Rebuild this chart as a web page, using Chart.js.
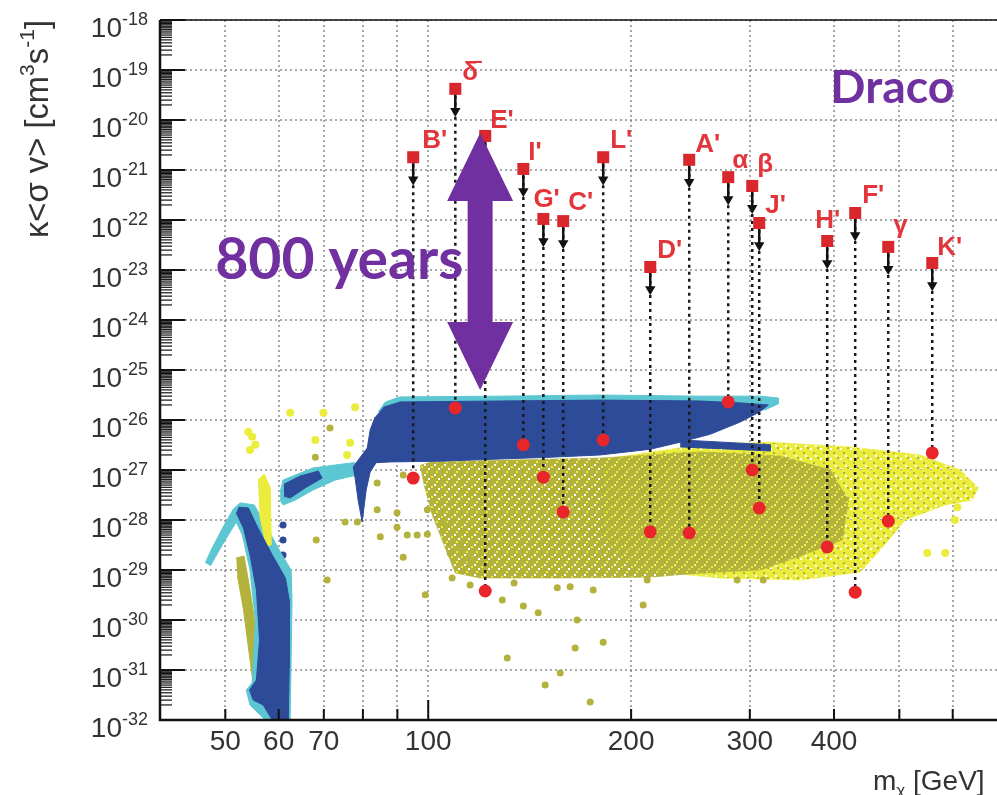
<!DOCTYPE html>
<html>
<head>
<meta charset="utf-8">
<script src="https://cdn.jsdelivr.net/npm/chart.js@4.4.1/dist/chart.umd.min.js"></script>
<style>
  html, body { margin: 0; padding: 0; background: #fff; }
  canvas { display: block; }
</style>
</head>
<body>
<canvas id="chart" width="997" height="795"></canvas>
<script>
// benchmark models: name, mass [GeV], limit on k<sigma v> and predicted k<sigma v> [cm^3 s^-1]
const models = ["B'", "\u03B4\u0304", "E'", "I'", "G'", "C'", "L'", "D'", "A'", "\u03B1", "\u03B2", "J'", "H'", "F'", "\u03B3", "K'"];
const masses = [95, 109.7, 121.5, 138.4, 148.2, 158.6, 181.8, 213.5, 243.9, 278.7, 302.5, 309.8, 390.8, 430, 481.4, 559.5];
const limits = [1.8e-21, 4.2e-20, 4.8e-21, 1.05e-21, 1.05e-22, 9.5e-23, 1.8e-21, 1.15e-23, 1.6e-21, 7.2e-22, 4.8e-22, 8.7e-23, 3.8e-23, 1.38e-22, 2.9e-23, 1.38e-23];
const predicted = [6.9e-28, 1.74e-26, 3.8e-30, 3.2e-27, 7.2e-28, 1.45e-28, 4e-27, 5.8e-29, 5.5e-29, 2.3e-26, 1e-27, 1.74e-28, 2.9e-29, 3.6e-30, 9.5e-29, 2.2e-27];

// axis ticks
const xTicks = [50, 60, 70, 80, 90, 100, 200, 300, 400, 500, 600];
const xTickLabels = ['50', '60', '70', '', '', '100', '200', '300', '400', '', ''];
const yTickPowers = [-18, -19, -20, -21, -22, -23, -24, -25, -26, -27, -28, -29, -30, -31, -32];

// scan regions, outlines [mass, k<sigma v>]
const bandDark = [[85.8,1.8e-26],[90.9,2.3e-26],[127.9,2.4e-26],[180,2.5e-26],[253.3,2.4e-26],[290.3,2.2e-26],[319.6,2.0e-26],[308.9,1.4e-26],[290.3,9.1e-27],[262.1,5.2e-27],[236.5,3.6e-27],[213.5,2.6e-27],[180,2.0e-27],[151.7,1.8e-27],[127.9,1.66e-27],[104.2,1.5e-27],[87.8,1.45e-27],[83.7,1.4e-27],[82.0,9.1e-28],[80.9,4.0e-28],[79.8,9.1e-29],[78.7,2.5e-28],[77.9,6.9e-28],[77.4,1.15e-27],[79.3,1.8e-27],[81.2,2.75e-27],[82.0,6.3e-27],[83.4,1.15e-26]];
const bandTail = [[236.5,4.0e-27],[321.7,3.2e-27],[321.7,2.4e-27],[236.5,2.9e-27]];
const bandLight = [[84.3,1.45e-26],[86.4,2.3e-26],[90.9,2.9e-26],[127.9,3.0e-26],[180,3.16e-26],[253.3,3.0e-26],[311.0,3.0e-26],[330.6,2.75e-26],[330.6,2.1e-26],[316.2,1.6e-26],[85.8,1.45e-26]];
const stripLight = [[60.3,3.6e-28],[60.9,6.3e-28],[64.6,8.7e-28],[67.5,1.1e-27],[72.8,1.26e-27],[77.4,1.4e-27],[79.8,1.3e-27],[80.1,8.3e-28],[77.4,7.6e-28],[72.8,6.3e-28],[67.5,4.0e-28],[63.5,2.5e-28],[60.9,2.0e-28],[60.3,2.5e-28]];
const stripDark = [[61.1,5.2e-28],[64.6,7.6e-28],[68.7,9.5e-28],[69.6,6.9e-28],[65.7,4.4e-28],[62.4,2.75e-28],[61.1,3.0e-28]];
const lowLight = [[46.7,1.4e-29],[47.8,2.75e-29],[49.8,7.9e-29],[51.4,1.66e-28],[52.6,2.2e-28],[55.2,2.0e-28],[57.9,6.3e-29],[60.7,2.0e-29],[62.6,1e-29],[62.8,2.5e-30],[62.4,1e-32],[57.3,1e-32],[54.4,2.0e-32],[53.7,4.0e-32],[54.8,5.5e-32],[55.4,1e-30],[54.4,1e-29],[53.0,5.0e-29],[51.9,9.1e-29],[49.5,3.2e-29],[47.5,1.2e-29]];
const lowDark = [[52.3,1.8e-28],[54.1,1.74e-28],[55.9,6.9e-29],[58.7,2.0e-29],[61.4,6.9e-30],[62.2,2.5e-30],[62.2,1.15e-31],[62.0,1e-32],[58.7,1e-32],[56.9,2.0e-32],[55.0,2.5e-32],[54.3,4.0e-32],[55.6,6.3e-32],[56.2,4.0e-31],[55.6,4.0e-30],[54.4,2.0e-29],[53.2,6.9e-29],[51.9,1.4e-28]];
const lowOlive = [[51.9,1.74e-29],[53.3,1.9e-29],[54.4,4.0e-30],[55.8,4.0e-31],[56.9,6.3e-32],[56.7,3.6e-32],[55.2,3.6e-32],[54.4,1.6e-31],[53.2,1.6e-30],[52.1,7.9e-30]];
const lowYellow = [[55.9,6.3e-28],[57.1,8.3e-28],[58.3,4.4e-28],[58.5,3.2e-29],[57.5,3.0e-29],[56.2,1.26e-28]];
const cloudOlive = [[100.7,1.45e-27],[136.9,1.6e-27],[180,1.74e-27],[253.3,2.3e-27],[332.9,1.9e-27],[394.9,1e-27],[420.1,2.5e-28],[411.5,4.0e-29],[356.4,1.9e-29],[311.0,1e-29],[253.3,8.7e-30],[213.5,7.2e-30],[157.0,6.9e-30],[119.4,6.9e-30],[109.7,8.7e-30],[106.0,2.75e-29],[101.4,1.26e-28],[98.6,5.0e-28],[97.3,1.26e-27]];
const cloudYellow = [[180,1.6e-27],[253.3,3.2e-27],[321.7,3.6e-27],[422.7,2.9e-27],[537.0,2.0e-27],[615.7,1e-27],[654.6,4.4e-28],[641.4,2.5e-28],[584.8,2.0e-28],[510.2,1e-28],[468.5,2.5e-29],[437.5,9.1e-30],[356.4,6.3e-30],[271.2,6.9e-30],[206.3,1e-29],[180,4.0e-29]];

// isolated scan points
const olivePoints = [[70.8,6.3e-30],[99.0,3.2e-30],[131.0,1.74e-31],[149.1,5.0e-32],[173.9,2.3e-32],[165.2,2.75e-31],[166.3,1e-30],[157.0,8.7e-32],[181.8,3.6e-31],[208.4,2.0e-30],[211.3,6.3e-30],[287.3,6.3e-30],[314.1,6.3e-30],[128.8,2.5e-30],[138.4,1.9e-30],[145.6,1.4e-30],[115.4,5.0e-30],[108.5,6.9e-30],[134.1,5.5e-30],[155.4,4.4e-30],[162.4,4.6e-30],[175.7,4.0e-30],
  [84.0,5.5e-28],[84.0,1.6e-28],[84.9,4.6e-29],[91.8,1.8e-29],[96.3,5.0e-29],[75.3,9.1e-29],[78.5,9.1e-29],[68.2,4.0e-29],[89.9,1.4e-28],[93.1,5.0e-29],[89.9,7.2e-29],[91.8,7.9e-28],[99.7,1.6e-28],[99.7,5.2e-29],[105.3,8.7e-29],[107.8,2.2e-29],[111.5,2.9e-29],[115.4,1.6e-29],[68.0,1.8e-27],[71.5,6.9e-27]];
const yellowPoints = [[62.4,1.4e-26],[69.9,1.4e-26],[68.0,4.0e-27],[76.6,3.5e-27],[75.8,2.0e-27],[77.9,1.8e-26],[93.4,2.0e-26],[54.8,4.6e-27],[54.1,5.75e-27],[55.4,3.2e-27],[54.4,2.5e-27],[609.4,1.8e-28],[604.6,1e-28],[550.1,2.2e-29],[584.8,2.2e-29]];
const bluePoints = [[60.9,7.9e-29],[60.9,4e-29],[60.9,2e-29],[60.9,1e-29]];

// annotations
const arrowMass = 119.4, arrowTop = 5.5e-21, arrowBottom = 4e-26;
const yearsText = '800 years', yearsAt = [48.3, 6.6e-24];
const targetText = 'Draco', targetAt = [395, 2.2e-20];

// styles
const darkBlue = '#2d4b99', lightBlue = '#5cc6d2', olive = '#b3b23c', yellow = '#ecec3c', purple = '#7030a0';
const gridColor = 'rgba(110,110,110,0.6)';
const labelOffsets = [[9,-9],[7,-9],[5,-8],[5,-9],[-10,-12],[5,-11],[7,-9],[7,-9],[6,-8],[4,-9],[5,-14],[6,-10],[-12,-13],[7,-10],[5,-14],[5,-8]];
const arrowFactor = 0.36;
const axisFont = '"Liberation Sans", Arial, Helvetica, sans-serif';

function speckle(base, dot, dots, holes) {
  const c = document.createElement('canvas');
  c.width = 10; c.height = 10;
  const g = c.getContext('2d');
  g.fillStyle = base; g.fillRect(0, 0, 10, 10);
  g.fillStyle = dot;
  dots.forEach(([a, b]) => g.fillRect(a, b, 2, 2));
  holes.forEach(([a, b]) => g.clearRect(a, b, 2, 2));
  return g.createPattern(c, 'repeat');
}
const olivePattern = speckle(olive, yellow, [[1,6],[6,1]], [[4,4],[8,8]]);
const yellowPattern = speckle(yellow, olive, [[3,2],[7,7]], [[0,8],[5,5]]);

const pts = arr => arr.map(([x, y]) => ({x, y}));

function region(points, fillStyle, edge, order) {
  return { data: pts(points), showLine: true, fill: 'shape', backgroundColor: fillStyle,
    borderColor: edge, borderWidth: 1, pointRadius: 0, tension: 0, order };
}
function dots(points, color, r, order, style) {
  return { data: pts(points), showLine: false, pointRadius: r, pointBackgroundColor: color,
    pointBorderWidth: 0, pointStyle: style || 'circle', order };
}

const dropLines = [], shafts = [], heads = [];
masses.forEach((m, i) => {
  dropLines.push({x: m, y: limits[i]}, {x: m, y: predicted[i]}, {x: m, y: null});
  shafts.push({x: m, y: limits[i]}, {x: m, y: limits[i] * arrowFactor}, {x: m, y: null});
  heads.push({x: m, y: limits[i] * arrowFactor});
});

const decorations = {
  id: 'decorations',
  afterDatasetsDraw(chart) {
    const {ctx, scales: {x, y}} = chart;
    ctx.save();
    // model labels
    ctx.fillStyle = '#e2363c';
    ctx.font = 'bold 26px ' + axisFont;
    ctx.textAlign = 'left';
    ctx.textBaseline = 'alphabetic';
    models.forEach((name, i) => {
      const px = x.getPixelForValue(masses[i]);
      const py = y.getPixelForValue(limits[i]);
      ctx.fillText(name, px + labelOffsets[i][0], py + labelOffsets[i][1]);
    });

    // double arrow
    const ax = x.getPixelForValue(arrowMass);
    const t = y.getPixelForValue(arrowTop);
    const b = y.getPixelForValue(arrowBottom);
    const hw = 33, sw = 12.5, hl = 68;
    ctx.fillStyle = purple;
    ctx.beginPath();
    ctx.moveTo(ax, t);
    ctx.lineTo(ax + hw, t + hl); ctx.lineTo(ax + sw, t + hl);
    ctx.lineTo(ax + sw, b - hl); ctx.lineTo(ax + hw, b - hl);
    ctx.lineTo(ax, b);
    ctx.lineTo(ax - hw, b - hl); ctx.lineTo(ax - sw, b - hl);
    ctx.lineTo(ax - sw, t + hl); ctx.lineTo(ax - hw, t + hl);
    ctx.closePath();
    ctx.fill();

    // purple texts, sized to the widths in the picture
    const fam = 'Lato, "Open Sans", sans-serif';
    const fit = (txt, w) => { ctx.font = 'bold 100px ' + fam; return 100 * w / ctx.measureText(txt).width; };
    ctx.font = 'bold ' + fit(yearsText, 248).toFixed(1) + 'px ' + fam;
    ctx.fillText(yearsText, x.getPixelForValue(yearsAt[0]), y.getPixelForValue(yearsAt[1]));
    ctx.font = 'bold ' + fit(targetText, 124).toFixed(1) + 'px ' + fam;
    ctx.fillText(targetText, x.getPixelForValue(targetAt[0]), y.getPixelForValue(targetAt[1]));
    ctx.restore();
  },
  afterDraw(chart) {
    const {ctx, chartArea: a, scales: {x, y}} = chart;
    ctx.save();
    ctx.strokeStyle = '#111';
    // frame
    ctx.lineWidth = 2.5;
    ctx.beginPath();
    ctx.moveTo(a.left, a.top); ctx.lineTo(a.left, a.bottom); ctx.lineTo(a.right, a.bottom);
    ctx.stroke();
    ctx.lineWidth = 1.5;
    ctx.beginPath(); ctx.moveTo(a.left, a.top); ctx.lineTo(a.right, a.top); ctx.stroke();

    // y ticks, major and minor
    yTickPowers.forEach(p => {
      const py = y.getPixelForValue(Math.pow(10, p));
      ctx.lineWidth = 2;
      ctx.beginPath(); ctx.moveTo(a.left, py); ctx.lineTo(a.left + 25, py); ctx.stroke();
      if (p === -18) return;
      ctx.lineWidth = 1.2;
      for (let m = 2; m < 10; m += 0.5) {
        const my = y.getPixelForValue(m * Math.pow(10, p));
        ctx.beginPath(); ctx.moveTo(a.left, my); ctx.lineTo(a.left + 12, my); ctx.stroke();
      }
    });
    // x ticks
    ctx.lineWidth = 2;
    xTicks.forEach(v => {
      const px = x.getPixelForValue(v);
      const len = v === 100 ? 20 : 11;
      ctx.beginPath(); ctx.moveTo(px, a.bottom); ctx.lineTo(px, a.bottom - len); ctx.stroke();
    });

    // y tick labels 10^n
    ctx.fillStyle = '#333';
    ctx.textBaseline = 'alphabetic';
    yTickPowers.forEach(p => {
      const py = y.getPixelForValue(Math.pow(10, p));
      ctx.font = '18px ' + axisFont;
      const sup = String(p);
      const sw = ctx.measureText(sup).width;
      ctx.textAlign = 'left';
      ctx.fillText(sup, 148 - sw, py + 5);
      ctx.font = '28px ' + axisFont;
      ctx.textAlign = 'right';
      ctx.fillText('10', 148 - sw, py + 17);
    });

    // y title, rotated, ending at the top of the frame
    const parts = [['\u03BA<\u03C3 v> [cm', 28, 0], ['3', 18, -12], ['s', 28, 0], ['-1', 18, -12], [']', 28, 0]];
    let total = 0;
    parts.forEach(pt => { ctx.font = pt[1] + 'px ' + axisFont; pt.push(ctx.measureText(pt[0]).width); total += pt[3]; });
    const k = 218 / total;
    ctx.translate(48, a.top);
    ctx.rotate(-Math.PI / 2);
    ctx.scale(k, k);
    ctx.textAlign = 'left';
    let cx = -total;
    parts.forEach(pt => {
      ctx.font = pt[1] + 'px ' + axisFont;
      ctx.fillText(pt[0], cx, pt[2]);
      cx += pt[3];
    });
    ctx.setTransform(1, 0, 0, 1, 0, 0);

    // x title
    ctx.textAlign = 'left';
    ctx.font = '28px ' + axisFont;
    let tx = 873;
    ctx.fillText('m', tx, 790); tx += ctx.measureText('m').width;
    ctx.font = '17px ' + axisFont;
    ctx.fillText('\u03C7', tx, 796); tx += ctx.measureText('\u03C7').width;
    ctx.font = '28px ' + axisFont;
    ctx.fillText(' [GeV]', tx, 790);
    ctx.restore();
  }
};

const chart = new Chart(document.getElementById('chart'), {
  type: 'scatter',
  data: {
    datasets: [
      dots(masses.map((m, i) => [m, limits[i]]), '#d8272d', 8.5, 1, 'rect'),
      dots(masses.map((m, i) => [m, predicted[i]]), '#e8262a', 6.5, 2),
      { data: heads, showLine: false, pointStyle: 'triangle', rotation: 180, pointRadius: 6,
        pointBackgroundColor: '#111', pointBorderWidth: 0, order: 3 },
      { data: shafts, showLine: true, borderColor: '#111', borderWidth: 2.5, pointRadius: 0, spanGaps: false, order: 4 },
      { data: dropLines, showLine: true, borderColor: '#1a1a1a', borderWidth: 2.5, borderDash: [3, 4],
        pointRadius: 0, spanGaps: false, order: 5 },
      region(bandTail, darkBlue, darkBlue, 8),
      region(bandDark, darkBlue, darkBlue, 9),
      region(bandLight, lightBlue, lightBlue, 10),
      region(stripDark, darkBlue, darkBlue, 11),
      region(stripLight, lightBlue, lightBlue, 12),
      region(lowDark, darkBlue, darkBlue, 13),
      region(lowYellow, yellow, yellow, 14),
      region(lowLight, lightBlue, lightBlue, 15),
      region(lowOlive, olive, olive, 16),
      dots(bluePoints, darkBlue, 3.5, 17),
      dots(yellowPoints, yellow, 4, 20),
      dots(olivePoints, olive, 3.5, 21),
      region(cloudOlive, olivePattern, 'rgba(179,178,60,0.6)', 22),
      region(cloudYellow, yellowPattern, 'rgba(236,236,60,0.6)', 23)
    ]
  },
  options: {
    responsive: false,
    animation: false,
    events: [],
    layout: { autoPadding: false, padding: { top: 20, left: 0, right: 0, bottom: 0 } },
    plugins: { legend: { display: false }, tooltip: { enabled: false } },
    scales: {
      x: {
        type: 'logarithmic', min: 40, max: 698,
        afterBuildTicks: s => { s.ticks = xTicks.map(v => ({value: v})); },
        afterFit: s => { s.height = 75; },
        grid: { color: gridColor, lineWidth: 2, drawTicks: false },
        border: { display: false, dash: [2, 3] },
        ticks: { autoSkip: false, maxRotation: 0, padding: 5, color: '#333',
          font: { family: axisFont, size: 28 }, callback: (v, i) => xTickLabels[i] }
      },
      y: {
        type: 'logarithmic', min: 1e-32, max: 1e-18,
        afterBuildTicks: s => { s.ticks = yTickPowers.map(p => ({value: Math.pow(10, p)})); },
        afterFit: s => { s.width = 160; },
        grid: { color: gridColor, lineWidth: 2, drawTicks: false },
        border: { display: false, dash: [2, 3] },
        ticks: { display: false }
      }
    }
  },
  plugins: [decorations]
});
</script>
</body>
</html>
